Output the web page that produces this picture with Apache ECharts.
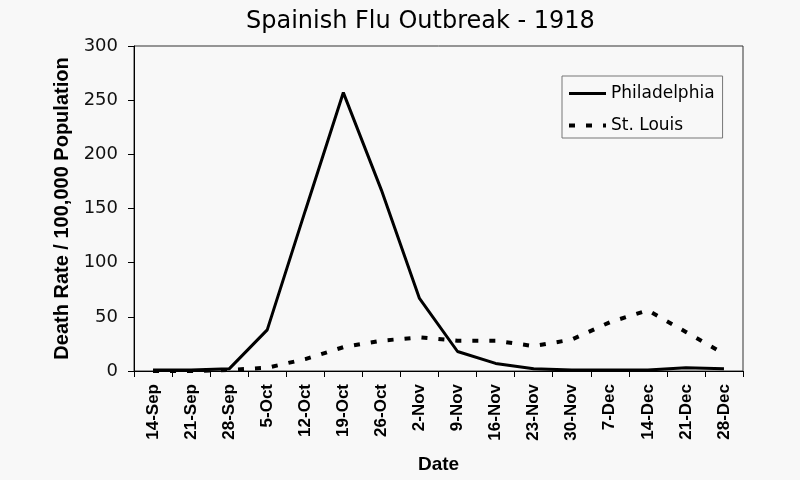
<!DOCTYPE html>
<html>
<head>
<meta charset="utf-8">
<script src="https://cdn.jsdelivr.net/npm/echarts@6/dist/echarts.min.js"></script>
<style>
  html, body { margin: 0; padding: 0; background: #f8f8f8; }
  #chart { width: 800px; height: 480px; }
</style>
</head>
<body>
<div id="chart"></div>
<script>
const chartTitle = "Spainish Flu Outbreak - 1918";
const categories = ["14-Sep", "21-Sep", "28-Sep", "5-Oct", "12-Oct", "19-Oct", "26-Oct", "2-Nov", "9-Nov", "16-Nov", "23-Nov", "30-Nov", "7-Dec", "14-Dec", "21-Dec", "28-Dec"];
const philadelphia = [1, 1, 2, 38, 148, 257, 167, 67, 18, 7, 2, 1, 1, 1, 3, 2];
const stLouis = [0, 0, 1, 3, 11, 22, 28, 31, 28, 28, 23, 29, 45, 56, 36, 16];
const yTicks = { min: 0, max: 300, interval: 50 };
const yAxisName = "Death Rate / 100,000 Population";
const xAxisName = "Date";

const chart = echarts.init(document.getElementById('chart'), null, { renderer: 'canvas' });
chart.setOption({
  backgroundColor: '#f8f8f8',
  animation: false,
  title: {
    text: chartTitle,
    left: 246,
    top: 10,
    padding: 0,
    textStyle: { fontFamily: 'DejaVu Sans', fontSize: 24, fontWeight: 'normal', color: '#000' }
  },
  legend: {
    orient: 'vertical',
    left: 562,
    top: 76,
    padding: [9, 8, 4, 5],
    itemGap: 15,
    itemWidth: 37,
    itemHeight: 14,
    borderColor: '#777',
    borderWidth: 1,
    itemStyle: { opacity: 0 },
    textStyle: { fontFamily: 'DejaVu Sans', fontSize: 17, color: '#000' },
    data: [
      { name: 'Philadelphia', lineStyle: { width: 3, color: '#000', type: 'solid' } },
      { name: 'St. Louis', lineStyle: { width: 4, color: '#000', type: [6, 11] } }
    ]
  },
  grid: {
    left: 134, right: 57, top: 46, bottom: 109,
    show: true, borderColor: '#333', borderWidth: 1, backgroundColor: 'transparent'
  },
  xAxis: {
    type: 'category',
    data: categories,
    boundaryGap: true,
    name: xAxisName,
    nameLocation: 'middle',
    nameGap: 84,
    nameTextStyle: { fontFamily: 'Liberation Sans', fontWeight: 'bold', fontSize: 19, color: '#000' },
    axisLine: { lineStyle: { color: '#000', width: 1 } },
    axisTick: { show: true, length: 6, lineStyle: { color: '#000' } },
    axisLabel: {
      rotate: 90, margin: 13, interval: 0,
      fontFamily: 'Liberation Sans', fontWeight: 'bold', fontSize: 17, color: '#000'
    },
    splitLine: { show: false }
  },
  yAxis: {
    type: 'value',
    min: yTicks.min, max: yTicks.max, interval: yTicks.interval,
    name: yAxisName,
    nameLocation: 'middle',
    nameGap: 62,
    nameRotate: 90,
    nameTextStyle: { fontFamily: 'Liberation Sans', fontWeight: 'bold', fontSize: 20, color: '#000' },
    axisLine: { show: true, lineStyle: { color: '#000', width: 1 } },
    axisTick: { show: true, length: 6, lineStyle: { color: '#000' } },
    axisLabel: { margin: 16, fontFamily: 'DejaVu Sans', fontSize: 18, color: '#111' },
    splitLine: { show: false }
  },
  series: [
    {
      name: 'St. Louis',
      type: 'line',
      data: stLouis,
      symbol: 'none',
      z: 2,
      itemStyle: { color: '#000' },
      lineStyle: { color: '#000', width: 4, type: [6, 11] }
    },
    {
      name: 'Philadelphia',
      type: 'line',
      data: philadelphia,
      symbol: 'none',
      z: 3,
      itemStyle: { color: '#000' },
      lineStyle: { color: '#000', width: 3 }
    }
  ]
});
</script>
</body>
</html>
